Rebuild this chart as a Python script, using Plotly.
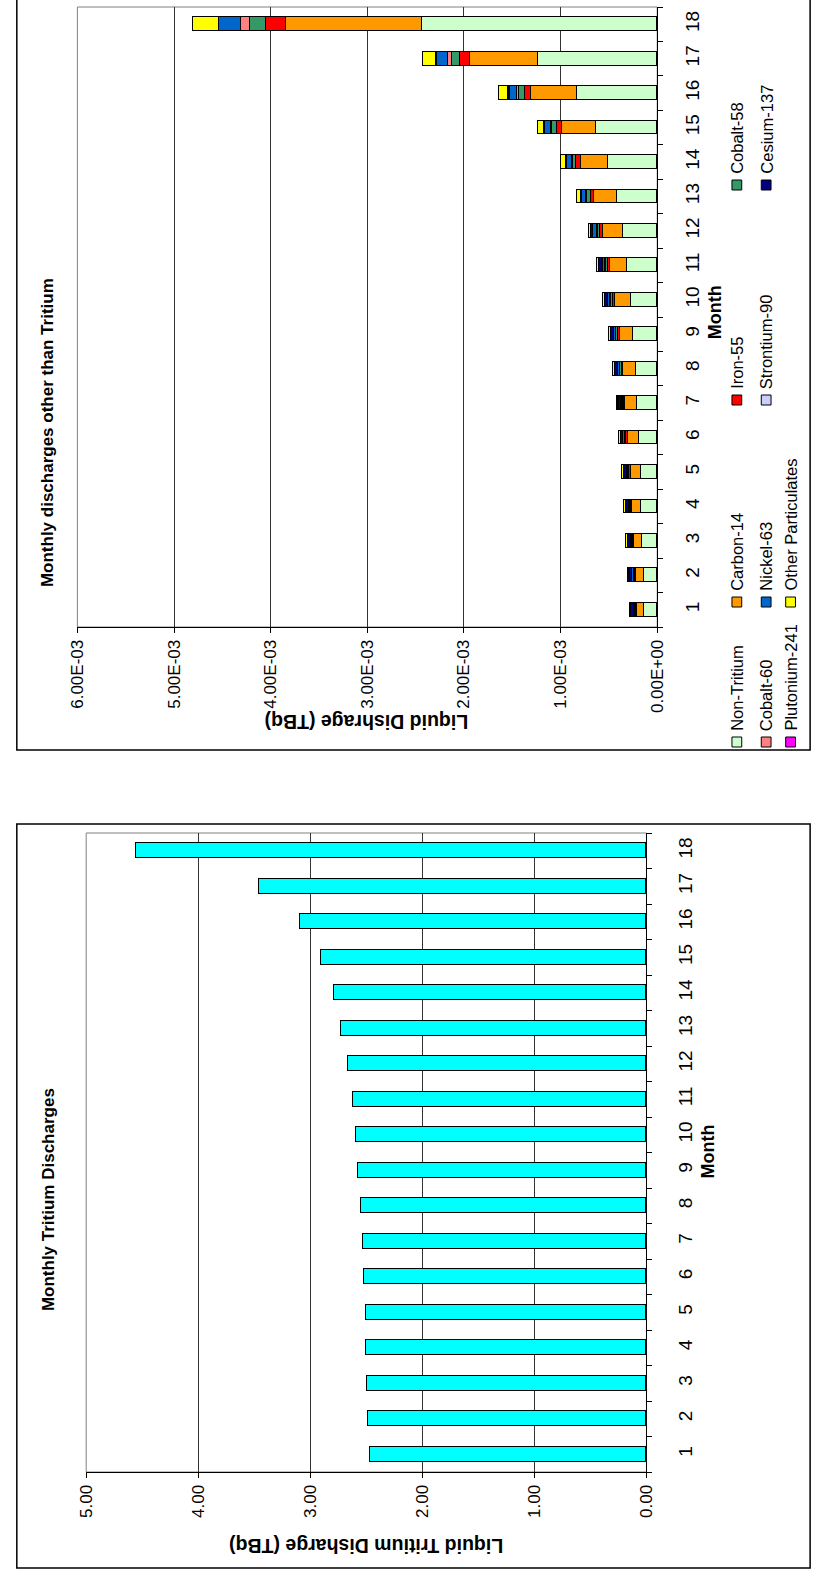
import plotly.graph_objects as go

# ---- data -------------------------------------------------------------
months = [str(m) for m in range(1, 19)]

# Monthly tritium discharge (TBq)
tritium = [2.47, 2.48, 2.49, 2.50, 2.505, 2.515, 2.53, 2.55, 2.57,
           2.595, 2.62, 2.665, 2.72, 2.79, 2.905, 3.09, 3.455, 4.55]

# Monthly discharges other than tritium (TBq), stacked in this order
non_tritium = [1.35e-4, 1.35e-4, 1.49e-4, 1.59e-4, 1.69e-4, 1.89e-4, 2.03e-4, 2.19e-4, 2.44e-4,
               2.70e-4, 3.08e-4, 3.50e-4, 4.15e-4, 5.03e-4, 6.25e-4, 8.27e-4, 1.225e-3, 2.435e-3]
carbon_14 = [7.0e-5, 8.1e-5, 9.1e-5, 9.5e-5, 9.8e-5, 1.09e-4, 1.22e-4, 1.26e-4, 1.42e-4,
             1.66e-4, 1.76e-4, 2.10e-4, 2.40e-4, 2.83e-4, 3.54e-4, 4.75e-4, 7.11e-4, 1.405e-3]
iron_55 = [1.0e-5, 1.5e-5, 1.0e-5, 1.5e-5, 1.6e-5, 1.6e-5, 1.2e-5, 2.0e-5, 2.0e-5,
           2.0e-5, 2.2e-5, 3.0e-5, 3.0e-5, 4.7e-5, 5.4e-5, 6.6e-5, 9.8e-5, 2.02e-4]
cobalt_58 = [8e-6, 6e-6, 6e-6, 8e-6, 1.0e-5, 1.2e-5, 1.4e-5, 1.4e-5, 1.6e-5,
             1.8e-5, 2.0e-5, 2.2e-5, 3.4e-5, 3.0e-5, 4.7e-5, 5.5e-5, 8.1e-5, 1.66e-4]
cobalt_60 = [3e-6, 3e-6, 3e-6, 3e-6, 3e-6, 4e-6, 3e-6, 5e-6, 5e-6,
             6e-6, 7e-6, 8e-6, 1.0e-5, 1.7e-5, 1.7e-5, 2.5e-5, 5.0e-5, 9.7e-5]
nickel_63 = [8e-6, 1.5e-5, 8e-6, 8e-6, 1.0e-5, 1.6e-5, 1.0e-5, 2.0e-5, 1.4e-5,
             2.4e-5, 2.8e-5, 3.6e-5, 4.4e-5, 5.0e-5, 5.7e-5, 7.5e-5, 1.07e-4, 2.22e-4]
strontium_90 = [2e-6, 2e-6, 2e-6, 2e-6, 2e-6, 2e-6, 2e-6, 3e-6, 3e-6,
                3e-6, 3e-6, 4e-6, 4e-6, 4e-6, 4e-6, 6e-6, 3e-6, 1e-6]
cesium_137 = [3.0e-5, 2.5e-5, 3.2e-5, 3.0e-5, 3.4e-5, 2.5e-5, 3.0e-5, 2.6e-5, 3.0e-5,
              2.8e-5, 3.0e-5, 1.8e-5, 8e-6, 6e-6, 5e-6, 1.2e-5, 8e-6, 1e-6]
plutonium_241 = [1e-6, 1e-6, 1e-6, 1e-6, 1e-6, 1e-6, 1e-6, 1e-6, 1e-6,
                 1e-6, 1e-6, 1e-6, 1e-6, 1e-6, 1e-6, 2e-6, 1e-6, 5e-7]
other_particulates = [1.3e-5, 1.1e-5, 1.3e-5, 1.4e-5, 1.5e-5, 1.5e-5, 1.9e-5, 1.9e-5, 1.8e-5,
                      2.2e-5, 2.7e-5, 2.8e-5, 4.0e-5, 5.4e-5, 6.4e-5, 9.0e-5, 1.35e-4, 2.67e-4]

nuclide_names = ["Non-Tritium", "Carbon-14", "Iron-55", "Cobalt-58", "Cobalt-60",
                 "Nickel-63", "Strontium-90", "Cesium-137", "Plutonium-241", "Other Particulates"]
nuclide_values = [non_tritium, carbon_14, iron_55, cobalt_58, cobalt_60,
                  nickel_63, strontium_90, cesium_137, plutonium_241, other_particulates]
nuclide_colors = ["#CCFFCC", "#FF9900", "#FF0000", "#339966", "#FF8080",
                  "#0066CC", "#CCCCFF", "#000080", "#FF00FF", "#FFFF00"]

tritium_ticks = [0, 1, 2, 3, 4, 5]
tritium_ticktext = ["0.00", "1.00", "2.00", "3.00", "4.00", "5.00"]
other_ticks = [0, 0.001, 0.002, 0.003, 0.004, 0.005, 0.006]
other_ticktext = ["0.00E+00", "1.00E-03", "2.00E-03", "3.00E-03", "4.00E-03", "5.00E-03", "6.00E-03"]

# ---- page geometry (pixels, page is drawn turned on its side) -----------
W, H = 825, 1577
FONT = "Arial, Liberation Sans, sans-serif"


def px(x):
    return x / W


def py(y):
    return 1 - y / H


fig = go.Figure()

# Tritium panel
fig.add_trace(go.Bar(
    y=months, x=tritium, orientation="h", xaxis="x", yaxis="y",
    width=0.43, marker=dict(color="#00FFFF", line=dict(color="#000000", width=1)),
    name="Tritium", showlegend=False))

# Non-tritium panel, stacked
for name, vals, col in zip(nuclide_names, nuclide_values, nuclide_colors):
    fig.add_trace(go.Bar(
        y=months, x=vals, orientation="h", xaxis="x2", yaxis="y2",
        width=0.4, marker=dict(color=col, line=dict(color="#000000", width=1)),
        name=name, showlegend=False))

value_axis_common = dict(
    showgrid=True, gridcolor="#333333", gridwidth=1,
    showline=True, linecolor="#000000", linewidth=1,
    ticks="outside", ticklen=5, tickcolor="#000000",
    tickangle=-90, zeroline=False,
    tickfont=dict(family=FONT, size=17, color="#000000"),
)
month_axis_common = dict(
    type="category", side="right", showline=True, linecolor="#000000", linewidth=1,
    ticks="outside", ticklen=5, tickcolor="#000000", tickson="boundaries",
    tickangle=-90, showgrid=False,
    tickfont=dict(family=FONT, size=19, color="#000000"),
)

fig.update_layout(
    width=W, height=H, margin=dict(l=0, r=0, t=0, b=0),
    paper_bgcolor="#FFFFFF", plot_bgcolor="#FFFFFF",
    barmode="stack", bargap=0,
    xaxis=dict(domain=[px(79), px(652.5)], range=[5, 0], anchor="y",
               tickvals=tritium_ticks, ticktext=tritium_ticktext, **value_axis_common),
    yaxis=dict(domain=[py(1472), py(833)], anchor="x", ticklabelstandoff=22,
               **month_axis_common),
    xaxis2=dict(domain=[px(70), px(663.5)], range=[0.006, 0], anchor="y2",
                tickvals=other_ticks, ticktext=other_ticktext, **value_axis_common),
    yaxis2=dict(domain=[py(627), py(7)], anchor="x2", ticklabelstandoff=18,
                **month_axis_common),
)

shapes = []
# grey plot-area frames
for x0, x1, y0, y1 in [(79, 652.5, 833, 1472), (70, 663.5, 7, 627)]:
    shapes.append(dict(type="rect", xref="paper", yref="paper",
                       x0=px(x0), x1=px(x1), y0=py(y1), y1=py(y0),
                       line=dict(color="#808080", width=1), layer="below"))
# chart borders
shapes.append(dict(type="rect", xref="paper", yref="paper",
                   x0=px(8), x1=px(820), y0=py(750), y1=1.02,
                   line=dict(color="#000000", width=1.5)))
shapes.append(dict(type="rect", xref="paper", yref="paper",
                   x0=px(8), x1=px(820), y0=py(1568), y1=py(824),
                   line=dict(color="#000000", width=1.5)))

annotations = []


def label(text, x, y, size, angle, bold=False, xanchor="center", yanchor="middle"):
    annotations.append(dict(
        text=f"<b>{text}</b>" if bold else text, xref="paper", yref="paper",
        x=px(x), y=py(y), showarrow=False, textangle=angle,
        xanchor=xanchor, yanchor=yanchor,
        font=dict(family=FONT, size=size, color="#000000")))


label("Monthly discharges other than Tritium", 40, 433, 17, -90, bold=True)
label("Monthly Tritium Discharges", 40, 1200, 17, -90, bold=True)
label("Liquid Dishrage (TBq)", 366, 722, 19.5, 180, bold=True)
label("Liquid Tritium Disharge (TBq)", 366, 1546, 19.5, 180, bold=True)
label("Month", 723, 312, 18, -90, bold=True)
label("Month", 715, 1152, 18, -90, bold=True)

# legend for the stacked panel: three columns, entries read upward
legend_cols = [745, 775, 800]
legend_rows = [742, 602, 400, 185]
for i, (name, col) in enumerate(zip(nuclide_names, nuclide_colors)):
    cx = legend_cols[i // 4]
    cy = legend_rows[i % 4]
    shapes.append(dict(type="rect", xref="paper", yref="paper",
                       x0=px(cx - 5), x1=px(cx + 5), y0=py(cy + 5), y1=py(cy - 5),
                       fillcolor=col, line=dict(color="#000000", width=1)))
    label(name, cx, cy - 9, 16.5, -90, yanchor="bottom")

fig.update_layout(shapes=shapes, annotations=annotations)

fig.write_html("out.html")
